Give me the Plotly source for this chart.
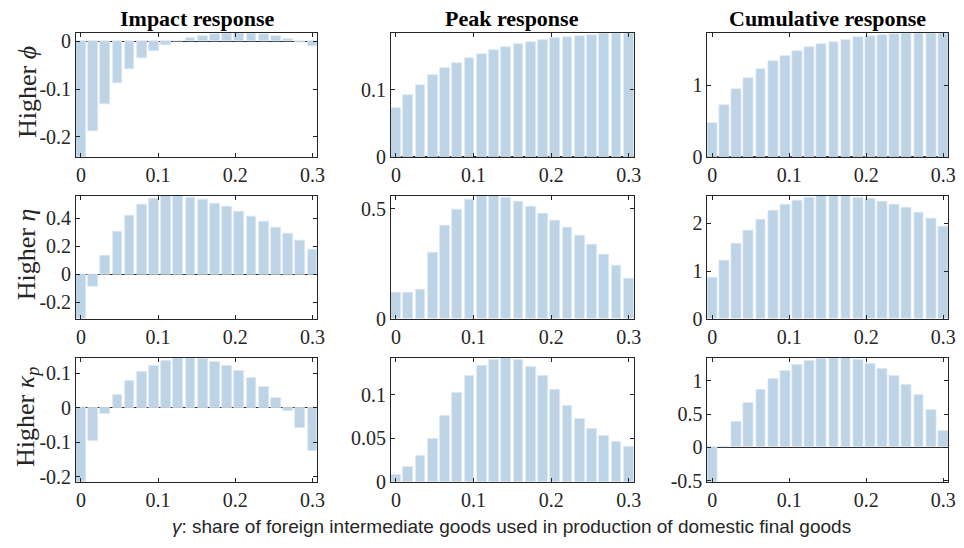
import numpy as np
import plotly.graph_objects as go

# ---- data ----
gamma = np.linspace(0, 0.3, 20)

impact_phi = [-0.242, -0.1885, -0.131, -0.088, -0.058, -0.036, -0.020, -0.008, 0.0005, 0.007,
              0.011, 0.015, 0.017, 0.017, 0.016, 0.014, 0.011, 0.005, -0.001, -0.0095]
peak_phi = [0.0732, 0.0912, 0.1068, 0.121, 0.1317, 0.140, 0.1473, 0.1527, 0.1585, 0.1634,
            0.1673, 0.1707, 0.1737, 0.1766, 0.1785, 0.180, 0.1815, 0.1834, 0.184, 0.184]
cum_phi = [0.468, 0.725, 0.94, 1.10, 1.225, 1.326, 1.404, 1.472, 1.523, 1.564,
           1.601, 1.628, 1.661, 1.679, 1.693, 1.711, 1.72, 1.72, 1.72, 1.72]

impact_eta = [-0.321, -0.086, 0.1326, 0.302, 0.423, 0.498, 0.544, 0.563, 0.563, 0.551,
              0.532, 0.509, 0.484, 0.449, 0.416, 0.379, 0.337, 0.291, 0.240, 0.177]
peak_eta = [0.118, 0.119, 0.132, 0.303, 0.422, 0.497, 0.540, 0.559, 0.559, 0.550,
            0.531, 0.507, 0.478, 0.447, 0.413, 0.376, 0.337, 0.291, 0.240, 0.182]
cum_eta = [0.861, 1.227, 1.566, 1.851, 2.081, 2.258, 2.386, 2.475, 2.529, 2.576,
           2.576, 2.576, 2.54, 2.515, 2.461, 2.393, 2.319, 2.224, 2.095, 1.939]

impact_kap = [-0.215, -0.0958, -0.0178, 0.0376, 0.076, 0.103, 0.122, 0.135, 0.1437, 0.1437,
              0.140, 0.133, 0.122, 0.106, 0.0864, 0.061, 0.029, -0.0103, -0.059, -0.124]
peak_kap = [0.0086, 0.0168, 0.0295, 0.0493, 0.0754, 0.1019, 0.121, 0.133, 0.140, 0.1418,
            0.139, 0.132, 0.121, 0.105, 0.0873, 0.0724, 0.0608, 0.0522, 0.0463, 0.0403]
cum_kap = [-0.522, 0.0, 0.38, 0.659, 0.863, 1.029, 1.141, 1.229, 1.293, 1.327,
           1.341, 1.341, 1.307, 1.249, 1.176, 1.073, 0.941, 0.78, 0.556, 0.249]

col_titles = ["Impact response", "Peak response", "Cumulative response"]
row_labels = ["Higher <i>ϕ</i>", "Higher <i>η</i>", "Higher <i>κ<sub>p</sub></i>"]
x_tickvals = [0, 0.1, 0.2, 0.3]
x_ticktext = ["0", "0.1", "0.2", "0.3"]
y_ticks = [
    [[-0.2, -0.1, 0], ["-0.2", "-0.1", "0"]],
    [[0, 0.1], ["0", "0.1"]],
    [[0, 1], ["0", "1"]],
    [[-0.2, 0, 0.2, 0.4], ["-0.2", "0", "0.2", "0.4"]],
    [[0, 0.5], ["0", "0.5"]],
    [[0, 1, 2], ["0", "1", "2"]],
    [[-0.2, -0.1, 0, 0.1], ["-0.2", "-0.1", "0", "0.1"]],
    [[0, 0.05, 0.1], ["0", "0.05", "0.1"]],
    [[-0.5, 0, 0.5, 1], ["-0.5", "0", "0.5", "1"]],
]
x_title = "<i>γ</i>: share of foreign intermediate goods used in production of domestic final goods"

series = [impact_phi, peak_phi, cum_phi,
          impact_eta, peak_eta, cum_eta,
          impact_kap, peak_kap, cum_kap]

# ---- layout geometry (pixels) ----
W, H = 964, 548
col_px = [(76.7, 320.0), (394.3, 639.0), (713.3, 956.0)]
row_px = [(31.0, 158.0), (197.7, 324.3), (364.3, 491.7)]

step = 0.3 / 19
bar_w = 0.8 * step
xrange = [-bar_w / 2, 0.3 + bar_w / 2]

BAR = "#bdd3e6"
AX = "#262626"
SERIF = "Liberation Serif, Times New Roman, serif"

fig = go.Figure()
layout = {}
for k, vals in enumerate(series):
    r, c = divmod(k, 3)
    idx = "" if k == 0 else str(k + 1)
    xa, ya = "x" + idx, "y" + idx
    fig.add_trace(go.Bar(x=gamma, y=vals, width=bar_w, marker=dict(color=BAR, line=dict(color="#dce7f1", width=0.8)),
                         xaxis=xa, yaxis=ya, showlegend=False, hoverinfo="skip"))
    ymin = min(0, min(vals))
    ymax = max(vals)
    layout["xaxis" + idx] = dict(
        domain=[col_px[c][0] / W, col_px[c][1] / W], anchor=ya, range=xrange,
        tickvals=x_tickvals, ticktext=x_ticktext, ticks="inside", ticklen=4,
        tickcolor=AX, showline=True, linecolor=AX, linewidth=1, mirror="allticks",
        showgrid=False, zeroline=False, layer="above traces",
        tickfont=dict(family=SERIF, size=20, color=AX))
    layout["yaxis" + idx] = dict(
        domain=[1 - row_px[r][1] / H, 1 - row_px[r][0] / H], anchor=xa, range=[ymin, ymax],
        tickvals=y_ticks[k][0], ticktext=y_ticks[k][1], ticks="inside", ticklen=4,
        tickcolor=AX, showline=True, linecolor=AX, linewidth=1, mirror="allticks",
        showgrid=False, zeroline=True, zerolinecolor=AX, zerolinewidth=1, layer="above traces",
        tickfont=dict(family=SERIF, size=20, color=AX))

annotations = []
for c, t in enumerate(col_titles):
    annotations.append(dict(text="<b>" + t + "</b>", x=(col_px[c][0] + col_px[c][1]) / 2 / W, y=1 - 16 / H,
                            xref="paper", yref="paper", showarrow=False, xanchor="center", yanchor="middle",
                            font=dict(family=SERIF, size=22, color="black")))
for r, t in enumerate(row_labels):
    annotations.append(dict(text=t, x=27 / W, y=1 - ((row_px[r][0] + row_px[r][1]) / 2 - 3) / H,
                            xref="paper", yref="paper", showarrow=False, textangle=-90,
                            xanchor="center", yanchor="middle",
                            font=dict(family=SERIF, size=26, color=AX)))
annotations.append(dict(text=x_title, x=516 / W, y=1 - 524 / H, xref="paper", yref="paper",
                        showarrow=False, xanchor="center", yanchor="top",
                        font=dict(family="Liberation Sans, Arial, sans-serif", size=19, color=AX)))

fig.update_layout(width=W, height=H, margin=dict(l=0, r=0, t=0, b=0),
                  paper_bgcolor="white", plot_bgcolor="white", bargap=0,
                  annotations=annotations, **layout)
fig.write_html("out.html", config={"displayModeBar": False},
               post_script="document.body.style.margin='0';document.body.style.overflow='hidden';")
